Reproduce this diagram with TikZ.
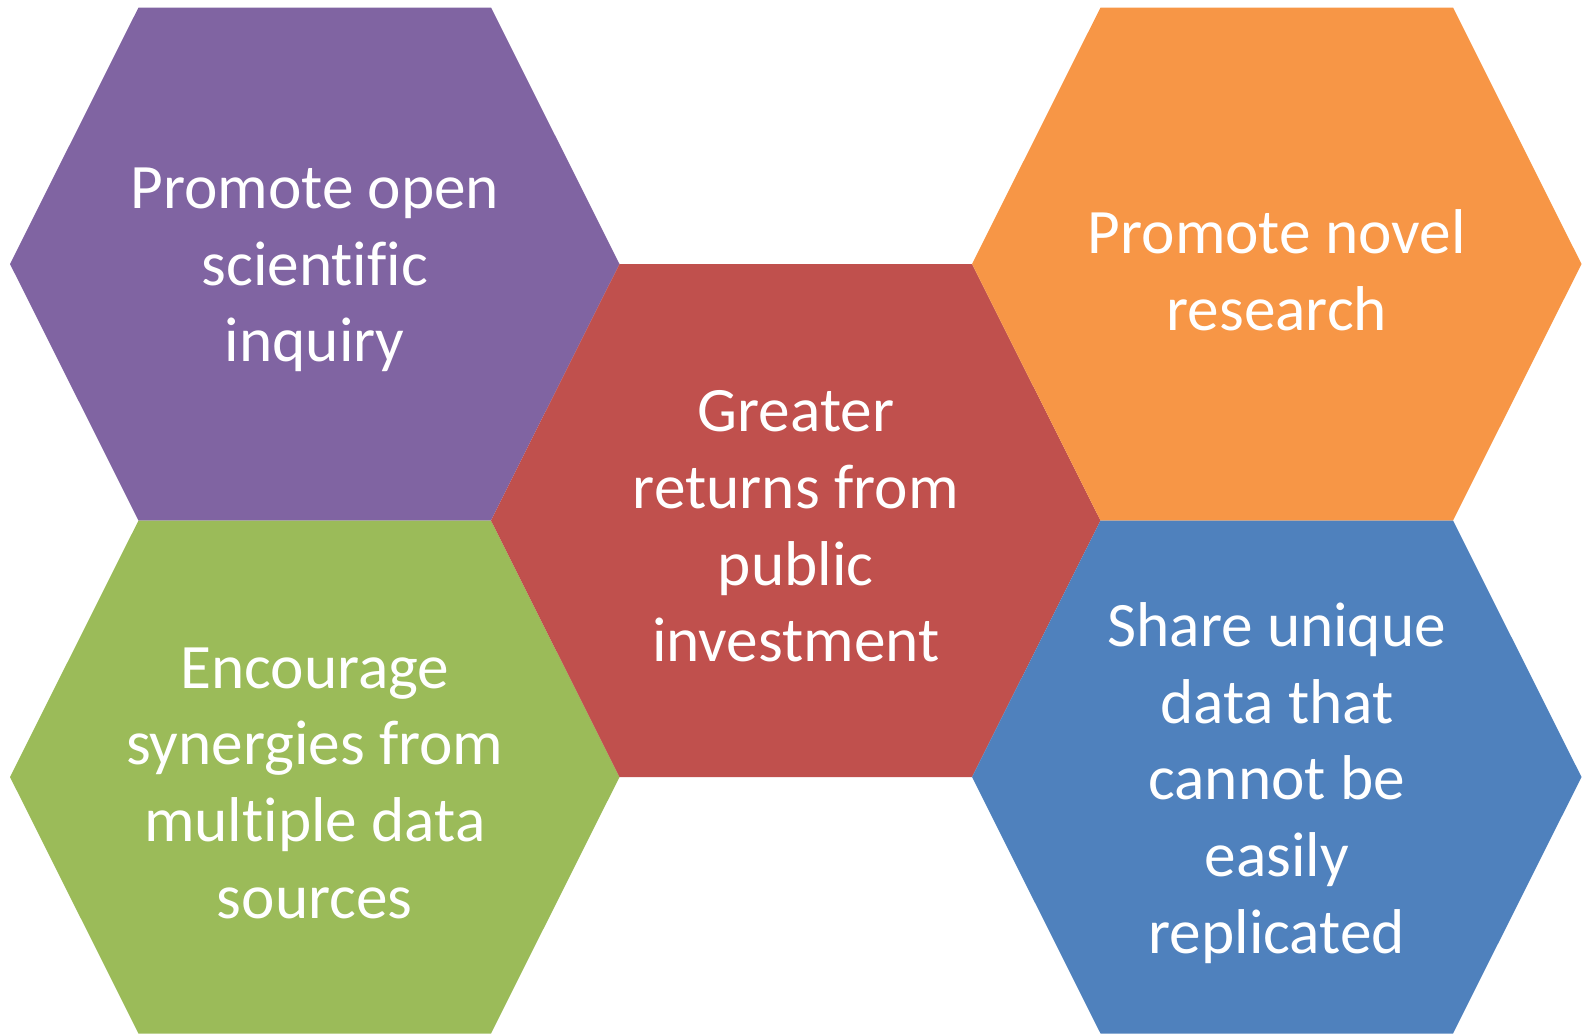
\documentclass[tikz,border=0pt]{standalone}
\usepackage{fontspec}
\setmainfont[Ligatures=NoCommon]{Carlito}

\definecolor{hexpurple}{HTML}{8064A2}
\definecolor{hexgreen}{HTML}{9BBB59}
\definecolor{hexred}{HTML}{C0504D}
\definecolor{hexorange}{HTML}{F79646}
\definecolor{hexblue}{HTML}{4F81BD}

\tikzset{
  hexlabel/.style={text=white, align=center, font=\fontsize{18}{21.8}\selectfont}
}

\begin{document}
\begin{tikzpicture}[x=0.01cm,y=-0.01cm]
  \useasboundingbox (0,0) rectangle (1582,1035);

  % five hexagons, centre x / centre y / colour / name / text
  \foreach \cx/\cy/\col/\nm/\txt in {
      314.75/264/hexpurple/inquiry/{Promote open\\scientific\\inquiry},
      314.75/777/hexgreen/synergy/{Encourage\\synergies from\\multiple data\\sources},
      795.75/520.5/hexred/returns/{Greater\\returns from\\public\\investment},
      1276.75/264/hexorange/novel/{Promote novel\\research},
      1276.75/777/hexblue/unique/{Share unique\\data that\\cannot be\\easily\\replicated}}{
    \fill[\col] (\cx-304.75,\cy) -- ++(128.5,-256.5) -- ++(352.5,0)
      -- ++(128.5,256.5) -- ++(-128.5,256.5) -- ++(-352.5,0) -- cycle;
    \node[hexlabel] (\nm) at (\cx,\cy+6) {\txt};
  }
\end{tikzpicture}
\end{document}
